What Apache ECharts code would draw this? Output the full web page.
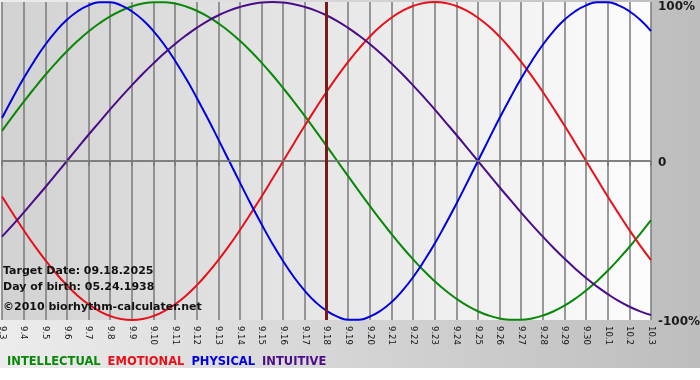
<!DOCTYPE html>
<html><head><meta charset="utf-8">
<script src="https://cdn.jsdelivr.net/npm/echarts@6/dist/echarts.min.js"></script>
<style>
html,body{margin:0;padding:0;background:#fff;}
#c{width:700px;height:380px;background:linear-gradient(to bottom, rgba(255,255,255,0) 368px, #fff 368px), linear-gradient(to right,#ececec,#bdbdbd);}
</style></head><body><div id="c"></div>
<script>
// day labels (one per day, 9.3 .. 10.3)
const dates = ['9.3','9.4','9.5','9.6','9.7','9.8','9.9','9.10','9.11','9.12','9.13','9.14','9.15','9.16','9.17','9.18','9.19','9.20','9.21','9.22','9.23','9.24','9.25','9.26','9.27','9.28','9.29','9.30','10.1','10.2','10.3'];
// values read every half day (61 samples), in percent
const intellectual = [18.9,28.2,37.2,45.8,54.1,61.8,69.0,75.6,81.5,86.6,91.0,94.5,97.2,99.0,99.9,99.9,99.0,97.2,94.5,91.0,86.6,81.5,75.6,69.0,61.8,54.1,45.8,37.2,28.2,18.9,9.5,0,-9.5,-18.9,-28.2,-37.2,-45.8,-54.1,-61.8,-69.0,-75.6,-81.5,-86.6,-91.0,-94.5,-97.2,-99.0,-99.9,-99.9,-99.0,-97.2,-94.5,-91.0,-86.6,-81.5,-75.6,-69.0,-61.8,-54.1,-45.8,-37.2];
const emotional = [-22.3,-33.0,-43.4,-53.2,-62.3,-70.7,-78.2,-84.7,-90.1,-94.4,-97.5,-99.4,-100,-99.4,-97.5,-94.4,-90.1,-84.7,-78.2,-70.7,-62.3,-53.2,-43.4,-33.0,-22.3,-11.2,0,11.2,22.3,33.0,43.4,53.2,62.3,70.7,78.2,84.7,90.1,94.4,97.5,99.4,100,99.4,97.5,94.4,90.1,84.7,78.2,70.7,62.3,53.2,43.4,33.0,22.3,11.2,0,-11.2,-22.3,-33.0,-43.4,-53.2,-62.3];
const physical = [27.0,39.8,52.0,63.1,73.1,81.7,88.8,94.2,97.9,99.8,99.8,97.9,94.2,88.8,81.7,73.1,63.1,52.0,39.8,27.0,13.6,0,-13.6,-27.0,-39.8,-52.0,-63.1,-73.1,-81.7,-88.8,-94.2,-97.9,-99.8,-99.8,-97.9,-94.2,-88.8,-81.7,-73.1,-63.1,-52.0,-39.8,-27.0,-13.6,0,13.6,27.0,39.8,52.0,63.1,73.1,81.7,88.8,94.2,97.9,99.8,99.8,97.9,94.2,88.8,81.7];
const intuitive = [-47.6,-40.2,-32.5,-24.5,-16.5,-8.3,0,8.3,16.5,24.5,32.5,40.2,47.6,54.7,61.4,67.7,73.6,78.9,83.7,88.0,91.6,94.6,96.9,98.6,99.7,100,99.7,98.6,96.9,94.6,91.6,88.0,83.7,78.9,73.6,67.7,61.4,54.7,47.6,40.2,32.5,24.5,16.5,8.3,0,-8.3,-16.5,-24.5,-32.5,-40.2,-47.6,-54.7,-61.4,-67.7,-73.6,-78.9,-83.7,-88.0,-91.6,-94.6,-96.9];
const yTicks = [-100, 0, 100];
const targetDate = '9.18';
const infoLines = ['Target Date: 09.18.2025', 'Day of birth: 05.24.1938', '\u00a92010 biorhythm-calculater.net'];

const colors = {INTELLECTUAL:'#0a880a', EMOTIONAL:'#e8101a', PHYSICAL:'#0000e0', INTUITIVE:'#4b0c88'};
const names = ['INTELLECTUAL','EMOTIONAL','PHYSICAL','INTUITIVE'];
const values = {INTELLECTUAL:intellectual, EMOTIONAL:emotional, PHYSICAL:physical, INTUITIVE:intuitive};

const chart = echarts.init(document.getElementById('c'), null, {renderer:'canvas'});
const grid = '#7a7a7a';
const series = [{
  type:'line', name:'_ref', data:[], z:1, silent:true,
  markLine:{silent:true, symbol:'none', animation:false, label:{show:false},
    data:[
      {yAxis:0, lineStyle:{color:grid, width:1.5, type:'solid'}},
      {xAxis:dates.indexOf(targetDate), lineStyle:{color:'#761a1a', width:3, type:'solid'}}
    ]}
}];
names.forEach(n => series.push({
  type:'line', name:n, data:values[n].map((v,i) => [i/2, v]), smooth:true, symbol:'none', z:3,
  lineStyle:{color:colors[n], width:2}, itemStyle:{color:colors[n]}
}));

const yLabelStyle = {fontSize:12, fontWeight:'bold', fontFamily:'DejaVu Sans', color:'#1a1a1a'};
chart.setOption({
  animation:false,
  backgroundColor:'transparent',
  grid:{left:2, right:49, top:2, bottom:60, show:true, borderWidth:0, containLabel:false, outerBoundsMode:'none',
    backgroundColor:new echarts.graphic.LinearGradient(0,0,1,0,[{offset:0,color:'#d2d2d2'},{offset:1,color:'#fcfcfc'}])},
  xAxis:{type:'value', min:0, max:dates.length-1, interval:1,
    axisLine:{show:true, lineStyle:{color:grid, width:1.5}},
    axisTick:{show:true, length:5, lineStyle:{color:grid, width:1.5}},
    splitLine:{show:true, lineStyle:{color:grid, width:1.5}},
    axisLabel:{rotate:-90, margin:6, fontSize:8.5, fontFamily:'DejaVu Sans', color:'#111', showMinLabel:true, showMaxLabel:true,
      formatter:v => dates[v]}},
  yAxis:{type:'value', position:'right', min:yTicks[0], max:yTicks[2], interval:100,
    axisLine:{show:false}, axisTick:{show:false}, splitLine:{show:false},
    axisLabel:{margin:7, showMinLabel:true, showMaxLabel:true,
      formatter:v => v === yTicks[2] ? '{t|' + v + '%}' : (v === 0 ? '{n|0}' : '{n|' + v + '%}'),
      rich:{t:Object.assign({padding:[10,0,0,0]}, yLabelStyle), n:Object.assign({padding:[4,0,0,0]}, yLabelStyle)}}},
  legend:{left:2, top:356, padding:0, icon:'none', itemWidth:0, itemHeight:11, itemGap:2, selectedMode:false,
    textStyle:{fontSize:11.5, fontWeight:'bold', fontFamily:'DejaVu Sans'},
    data:names.map(n => ({name:n, textStyle:{color:colors[n]}}))},
  graphic:infoLines.map((t,i) => ({type:'text', left:3, top:[266,282,302][i], z:10, silent:true,
    style:{text:t, fontSize:11, fontWeight:'bold', fontFamily:'DejaVu Sans', fill:'#111'}})),
  series:series
});
</script></body></html>
